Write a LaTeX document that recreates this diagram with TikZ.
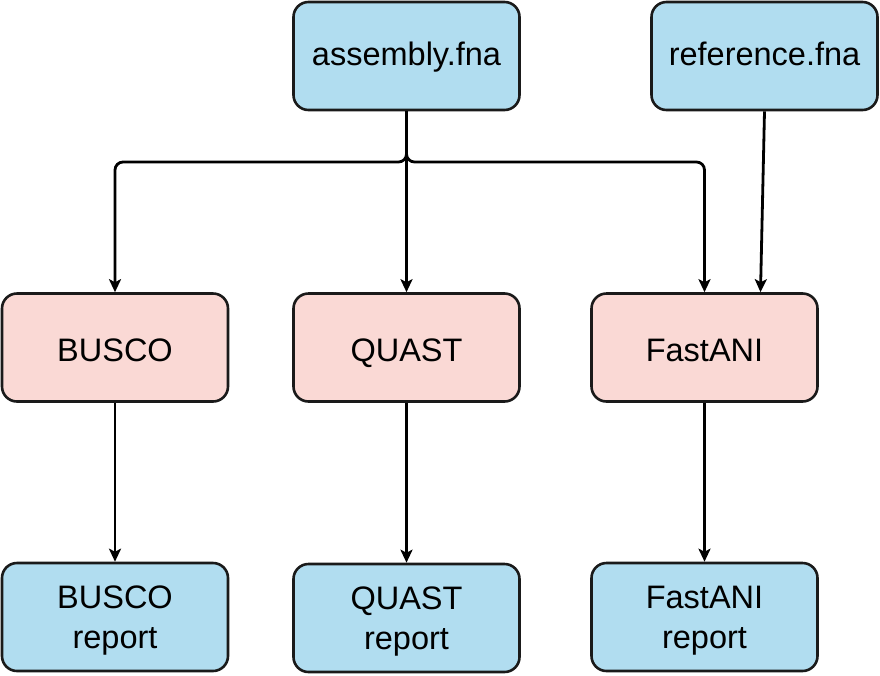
\documentclass[tikz,border=0pt]{standalone}
\usepackage{fontspec}
\setmainfont{Liberation Sans}
\usetikzlibrary{arrows.meta}
\definecolor{bluefill}{HTML}{B1DDF0}
\definecolor{pinkfill}{HTML}{FAD9D5}
\definecolor{strokec}{HTML}{1A1A1A}
\begin{document}
\begin{tikzpicture}[x=1pt,y=-1pt,
  box/.style={draw=strokec, line width=2.6pt, rounded corners=15pt, minimum width=226pt, minimum height=108pt, inner sep=0pt, align=center, font=\fontsize{32.5}{40}\selectfont},
  oneup/.style={text height=23.3pt, text depth=5pt},
  onedown/.style={text height=28pt, text depth=0pt},
  two/.style={text depth=0pt},
  datab/.style={box, fill=bluefill},
  toolb/.style={box, fill=pinkfill},
  conn/.style={line width=2.8pt, black, -{Stealth[length=13pt,width=12pt,inset=3pt]}}]
\useasboundingbox (0,0) rectangle (880,675);
\node[datab, oneup] (asm) at (406.5,56) {assembly.fna};
\node[datab, oneup] (ref) at (764.5,56) {reference.fna};
\node[toolb, onedown] (busco) at (115,347.5) {BUSCO};
\node[toolb, onedown] (quast) at (406.5,347.5) {QUAST};
\node[toolb, onedown] (fani) at (704.5,347.5) {FastANI};
\node[datab, two] (br) at (115,617) {BUSCO\\report};
\node[datab, two] (qr) at (406.5,618) {QUAST\\report};
\node[datab, two] (fr) at (704.5,617) {FastANI\\report};
\coordinate (split) at (406.5,162);
\draw[conn, rounded corners=8pt] (asm.south) -- (split) -| (busco.north);
\draw[conn, rounded corners=8pt] (asm.south) -- (split) -| (fani.north);
\draw[conn] (asm.south) -- (quast.north);
\draw[conn] (ref.south) -- ([xshift=-4pt]ref.south |- fani.north);
\draw[conn] (busco.south) -- (br.north);
\draw[conn] (quast.south) -- (qr.north);
\draw[conn] (fani.south) -- (fr.north);
\end{tikzpicture}
\end{document}
